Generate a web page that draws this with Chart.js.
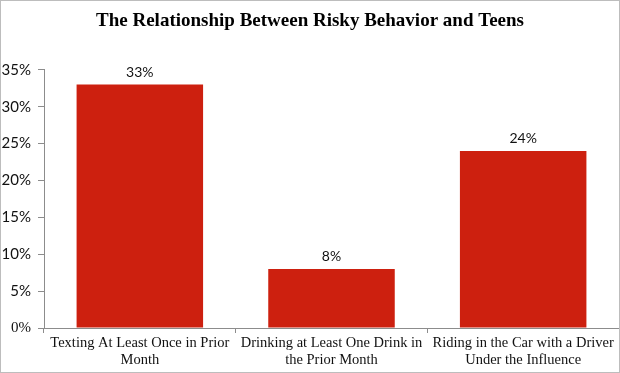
<!DOCTYPE html>
<html>
<head>
<meta charset="utf-8">
<script src="https://cdn.jsdelivr.net/npm/chart.js@4.4.0/dist/chart.umd.min.js"></script>
<style>
  html, body { margin: 0; padding: 0; background: #fff; }
  #wrap { width: 618px; height: 371px; border: 1px solid #bdbdbd; position: relative; }
</style>
</head>
<body>
<div id="wrap"><canvas id="myChart" width="618" height="371"></canvas></div>
<script>
var chartTitle = 'The Relationship Between Risky Behavior and Teens';
var categories = [
    ['Texting At Least Once in Prior', 'Month'],
    ['Drinking at Least One Drink in', 'the Prior Month'],
    ['Riding in the Car with a Driver', 'Under the Influence']
];
var values = [33, 8, 24];
var yTicks = [0, 5, 10, 15, 20, 25, 30, 35];

var serif = "'Liberation Serif', serif";
var sans = "Lato, 'Open Sans', sans-serif";

// labels above the bars
var barLabels = {
    id: 'barLabels',
    afterDatasetsDraw: function (chart) {
        var ctx = chart.ctx;
        var meta = chart.getDatasetMeta(0);
        ctx.save();
        ctx.font = '14px ' + sans;
        ctx.fillStyle = '#111';
        ctx.textAlign = 'center';
        ctx.textBaseline = 'middle';
        meta.data.forEach(function (bar, i) {
            ctx.fillText(values[i] + '%', bar.x, bar.y - 12);
        });
        ctx.restore();
    }
};

var ctx = document.getElementById('myChart').getContext('2d');
var myChart = new Chart(ctx, {
    type: 'bar',
    data: {
        labels: categories,
        datasets: [{
            data: values,
            backgroundColor: '#cd200f',
            borderWidth: 0,
            categoryPercentage: 0.66,
            barPercentage: 1
        }]
    },
    options: {
        responsive: false,
        animation: false,
        layout: { padding: { left: 0, right: 0, top: 0, bottom: 0 } },
        plugins: {
            legend: { display: false },
            tooltip: { enabled: false },
            title: {
                display: true,
                text: chartTitle,
                color: '#000',
                font: { family: serif, size: 19, weight: 'bold' },
                padding: { top: 9, bottom: 37 }
            }
        },
        scales: {
            x: {
                grid: {
                    offset: true,
                    drawOnChartArea: false,
                    tickLength: 5,
                    color: '#8c8c8c'
                },
                border: { color: '#8c8c8c' },
                ticks: {
                    color: '#111',
                    font: { family: serif, size: 14.5 },
                    maxRotation: 0,
                    autoSkip: false,
                    padding: 1
                },
                afterFit: function (scale) { scale.height = 44; }
            },
            y: {
                min: 0,
                max: 35,
                afterBuildTicks: function (scale) {
                    scale.ticks = yTicks.map(function (v) { return { value: v }; });
                },
                grid: {
                    drawOnChartArea: false,
                    tickLength: 6,
                    color: '#8c8c8c'
                },
                border: { color: '#8c8c8c' },
                ticks: {
                    color: '#111',
                    padding: 7,
                    font: function (c) {
                        return c.index === 0 ? { family: serif, size: 15 } : { family: sans, size: 15 };
                    },
                    callback: function (v) { return v + '%'; }
                },
                afterFit: function (scale) { scale.width = 43; }
            }
        }
    },
    plugins: [barLabels]
});
</script>
</body>
</html>
